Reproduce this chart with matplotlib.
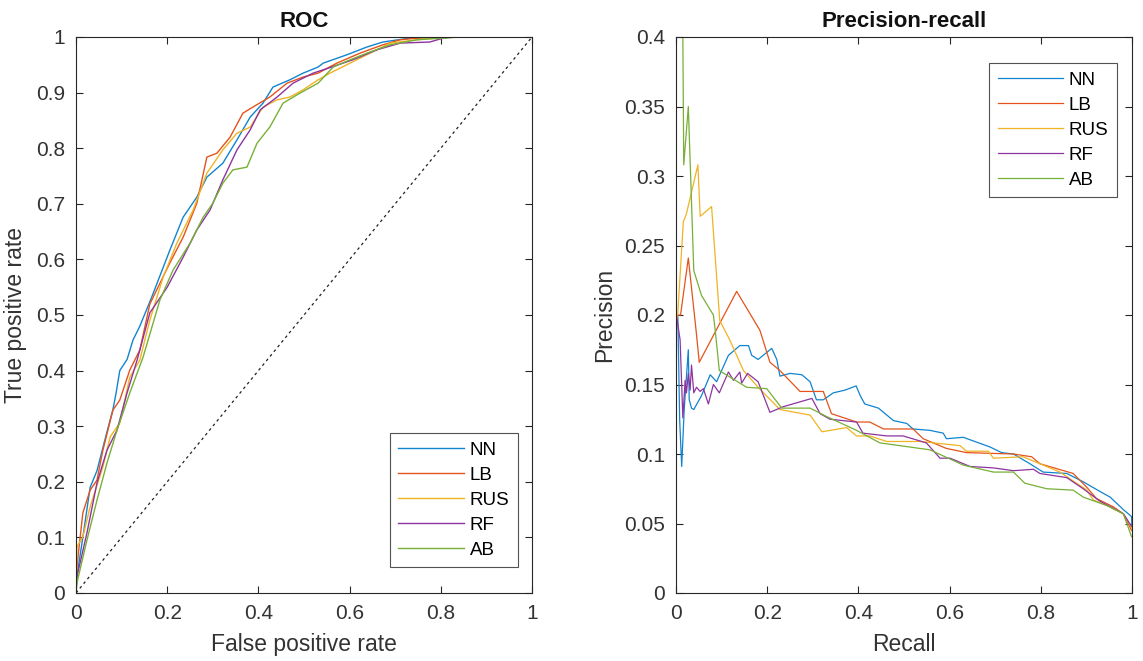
import matplotlib.pyplot as plt

plt.rcParams['font.family'] = ['Liberation Sans', 'DejaVu Sans']

models = ['NN', 'LB', 'RUS', 'RF', 'AB']
colors = ['#1184CF', '#E5531C', '#F0B323', '#8E34A0', '#77B036']

# ROC curves: false positive rate / true positive rate
roc_fpr = {
    'NN': [0, 0.002, 0.015, 0.031, 0.046, 0.068, 0.081, 0.088, 0.096, 0.112, 0.125, 0.14, 0.155, 0.165,
           0.206, 0.235, 0.265, 0.287, 0.322, 0.353, 0.382, 0.41, 0.432, 0.469, 0.498, 0.531, 0.542,
           0.594, 0.638, 0.673, 0.732, 0.798, 0.87, 1],
    'LB': [0, 0.002, 0.015, 0.031, 0.046, 0.059, 0.081, 0.096, 0.118, 0.14, 0.162, 0.206, 0.235, 0.265,
           0.287, 0.309, 0.338, 0.366, 0.388, 0.425, 0.463, 0.498, 0.531, 0.572, 0.623, 0.673, 0.711,
           0.748, 0.8, 1],
    'RUS': [0, 0.002, 0.015, 0.031, 0.059, 0.075, 0.096, 0.118, 0.14, 0.162, 0.191, 0.221, 0.257, 0.287,
            0.322, 0.353, 0.382, 0.41, 0.441, 0.469, 0.498, 0.531, 0.557, 0.601, 0.645, 0.689, 0.748,
            0.805, 1],
    'RF': [0, 0.002, 0.024, 0.046, 0.068, 0.09, 0.112, 0.134, 0.162, 0.2, 0.235, 0.265, 0.294, 0.322,
           0.353, 0.382, 0.404, 0.441, 0.476, 0.52, 0.557, 0.607, 0.66, 0.711, 0.776, 0.805, 0.83, 1],
    'AB': [0, 0.002, 0.024, 0.046, 0.068, 0.09, 0.118, 0.147, 0.184, 0.213, 0.25, 0.279, 0.3, 0.322,
           0.344, 0.375, 0.397, 0.425, 0.454, 0.491, 0.531, 0.564, 0.601, 0.638, 0.689, 0.748, 0.842, 1],
}
roc_tpr = {
    'NN': [0, 0.03, 0.1, 0.19, 0.22, 0.29, 0.33, 0.36, 0.4, 0.42, 0.455, 0.48, 0.51, 0.53,
           0.617, 0.676, 0.712, 0.748, 0.773, 0.815, 0.856, 0.881, 0.91, 0.923, 0.935, 0.946, 0.953,
           0.968, 0.982, 0.991, 0.998, 1, 1, 1],
    'LB': [0, 0.047, 0.144, 0.185, 0.203, 0.257, 0.329, 0.347, 0.401, 0.437, 0.52, 0.594, 0.64, 0.701,
           0.784, 0.791, 0.82, 0.863, 0.874, 0.892, 0.917, 0.928, 0.935, 0.953, 0.971, 0.986, 0.995,
           0.998, 1, 1],
    'RUS': [0, 0.083, 0.101, 0.155, 0.227, 0.281, 0.306, 0.388, 0.419, 0.491, 0.568, 0.629, 0.689, 0.755,
            0.797, 0.827, 0.838, 0.874, 0.887, 0.892, 0.905, 0.923, 0.935, 0.953, 0.971, 0.989, 0.995,
            1, 1],
    'RF': [0, 0.029, 0.108, 0.198, 0.257, 0.293, 0.36, 0.419, 0.504, 0.55, 0.604, 0.653, 0.689, 0.743,
           0.797, 0.833, 0.869, 0.892, 0.917, 0.935, 0.945, 0.959, 0.977, 0.989, 0.991, 0.998, 1, 1],
    'AB': [0, 0.018, 0.095, 0.167, 0.234, 0.293, 0.36, 0.424, 0.527, 0.581, 0.629, 0.676, 0.701, 0.737,
           0.761, 0.766, 0.809, 0.838, 0.881, 0.899, 0.917, 0.946, 0.959, 0.971, 0.986, 0.995, 1, 1],
}

# precision-recall curves
pr_recall = {
    'NN': [0, 0.004, 0.008, 0.0125, 0.018, 0.027, 0.029, 0.034, 0.039, 0.056, 0.075, 0.089, 0.115, 0.14,
           0.159, 0.166, 0.18, 0.21, 0.221, 0.228, 0.25, 0.276, 0.294, 0.308, 0.323, 0.345, 0.371, 0.395,
           0.404, 0.414, 0.444, 0.477, 0.506, 0.52, 0.557, 0.586, 0.593, 0.63, 0.689, 0.714, 0.74, 0.776,
           0.805, 0.857, 0.893, 0.93, 0.952, 0.981, 0.999, 1],
    'LB': [0, 0.01, 0.027, 0.044, 0.051, 0.133, 0.184, 0.206, 0.228, 0.272, 0.323, 0.341, 0.396, 0.425,
           0.455, 0.52, 0.542, 0.593, 0.637, 0.74, 0.78, 0.798, 0.871, 0.901, 0.922, 0.959, 0.981, 0.999],
    'RUS': [0, 0.003, 0.016, 0.023, 0.048, 0.053, 0.078, 0.096, 0.118, 0.148, 0.18, 0.228, 0.294, 0.32,
            0.374, 0.396, 0.425, 0.462, 0.535, 0.623, 0.637, 0.685, 0.696, 0.761, 0.798, 0.842, 0.901,
            0.915, 0.952, 0.981, 1],
    'RF': [0, 0.001, 0.009, 0.015, 0.02, 0.023, 0.027, 0.031, 0.034, 0.039, 0.045, 0.053, 0.06, 0.071,
           0.082, 0.095, 0.115, 0.126, 0.14, 0.144, 0.157, 0.18, 0.206, 0.235, 0.298, 0.316, 0.338, 0.396,
           0.41, 0.462, 0.498, 0.549, 0.579, 0.601, 0.623, 0.645, 0.696, 0.74, 0.784, 0.798, 0.857, 0.893,
           0.93, 0.981, 0.999],
    'AB': [0.013, 0.015, 0.017, 0.027, 0.039, 0.056, 0.082, 0.086, 0.095, 0.115, 0.155, 0.199, 0.232,
           0.294, 0.33, 0.396, 0.447, 0.513, 0.557, 0.63, 0.696, 0.74, 0.765, 0.813, 0.871, 0.893, 0.944,
           0.981, 0.999],
}
pr_precision = {
    'NN': [0.2, 0.2, 0.125, 0.091, 0.132, 0.175, 0.139, 0.133, 0.132, 0.142, 0.157, 0.152, 0.171, 0.178,
           0.178, 0.171, 0.168, 0.176, 0.168, 0.156, 0.158, 0.157, 0.152, 0.139, 0.139, 0.144, 0.146, 0.149,
           0.142, 0.136, 0.133, 0.124, 0.122, 0.118, 0.117, 0.115, 0.111, 0.112, 0.105, 0.101, 0.1, 0.093,
           0.087, 0.086, 0.08, 0.073, 0.069, 0.06, 0.055, 0.047],
    'LB': [0.2, 0.2, 0.241, 0.189, 0.166, 0.217, 0.189, 0.166, 0.16, 0.145, 0.145, 0.129, 0.123, 0.123,
           0.118, 0.118, 0.111, 0.104, 0.101, 0.1, 0.098, 0.093, 0.086, 0.076, 0.068, 0.062, 0.057, 0.045],
    'RUS': [0.19, 0.196, 0.267, 0.273, 0.308, 0.271, 0.278, 0.196, 0.182, 0.16, 0.148, 0.132, 0.128, 0.116,
            0.119, 0.113, 0.113, 0.109, 0.109, 0.106, 0.102, 0.102, 0.097, 0.098, 0.093, 0.087, 0.074,
            0.067, 0.062, 0.057, 0.0465],
    'RF': [0, 0.2, 0.182, 0.126, 0.153, 0.144, 0.158, 0.146, 0.164, 0.144, 0.148, 0.145, 0.147, 0.136,
           0.15, 0.144, 0.159, 0.153, 0.159, 0.151, 0.158, 0.152, 0.13, 0.134, 0.14, 0.129, 0.125, 0.123,
           0.115, 0.113, 0.113, 0.108, 0.097, 0.097, 0.094, 0.091, 0.09, 0.088, 0.089, 0.086, 0.083, 0.075,
           0.066, 0.057, 0.048],
    'AB': [0.5, 0.4, 0.308, 0.35, 0.232, 0.214, 0.2, 0.189, 0.16, 0.156, 0.148, 0.147, 0.133, 0.133,
           0.127, 0.117, 0.108, 0.105, 0.103, 0.092, 0.087, 0.087, 0.079, 0.075, 0.074, 0.069, 0.063,
           0.057, 0.0405],
}

roc_xticks = [0, 0.2, 0.4, 0.6, 0.8, 1]
roc_yticks = [0, 0.1, 0.2, 0.3, 0.4, 0.5, 0.6, 0.7, 0.8, 0.9, 1]
pr_yticks = [0, 0.05, 0.1, 0.15, 0.2, 0.25, 0.3, 0.35, 0.4]

axis_gray = '#262626'
label_gray = '#333333'

fig = plt.figure(figsize=(11.43, 6.61), dpi=100)
ax1 = fig.add_axes((76 / 1143, 1 - 593 / 661, 456 / 1143, 556 / 661))
ax2 = fig.add_axes((676 / 1143, 1 - 593 / 661, 456 / 1143, 556 / 661))

for m, c in zip(models, colors):
    ax1.plot(roc_fpr[m], roc_tpr[m], color=c, lw=1.0, label=m)
ax1.plot([0, 1], [0, 1], color='#222222', lw=0.9, linestyle=(0, (2.2, 2.6)))

for m, c in zip(models, colors):
    ax2.plot(pr_recall[m], pr_precision[m], color=c, lw=0.9, label=m)

ax1.set_xlim(0, 1)
ax1.set_ylim(0, 1)
ax1.set_xticks(roc_xticks)
ax1.set_xticklabels([f'{v:g}' for v in roc_xticks])
ax1.set_yticks(roc_yticks)
ax1.set_yticklabels([f'{v:g}' for v in roc_yticks])
ax1.set_title('ROC', fontsize=16, fontweight='bold', pad=7, color='#111111')
ax1.set_xlabel('False positive rate', fontsize=16.5, color=label_gray, labelpad=7)
ax1.set_ylabel('True positive rate', fontsize=16.5, color=label_gray, labelpad=6)

ax2.set_xlim(0, 1)
ax2.set_ylim(0, 0.4)
ax2.set_xticks(roc_xticks)
ax2.set_xticklabels([f'{v:g}' for v in roc_xticks])
ax2.set_yticks(pr_yticks)
ax2.set_yticklabels([f'{v:g}' for v in pr_yticks])
ax2.set_title('Precision-recall', fontsize=16, fontweight='bold', pad=7, color='#111111')
ax2.set_xlabel('Recall', fontsize=16.5, color=label_gray, labelpad=7)
ax2.set_ylabel('Precision', fontsize=16.5, color=label_gray, labelpad=6)

for ax in (ax1, ax2):
    for s in ax.spines.values():
        s.set_color(axis_gray)
        s.set_linewidth(0.8)
    ax.tick_params(direction='in', length=5, width=0.8, colors=axis_gray,
                   labelsize=15, top=True, right=True, pad=8)
    for t in ax.get_xticklabels() + ax.get_yticklabels():
        t.set_color(label_gray)

leg_kw = dict(fontsize=13.5, handlelength=3.5, frameon=True, fancybox=False,
              edgecolor=axis_gray, borderpad=0.45, labelspacing=0.42, handletextpad=0.3,
              borderaxespad=0)
l1 = ax1.legend(loc='lower right', bbox_to_anchor=(0.969, 0.046), **leg_kw)
l2 = ax2.legend(loc='upper right', bbox_to_anchor=(0.967, 0.953), **leg_kw)
for lg in (l1, l2):
    lg.get_frame().set_linewidth(0.8)

fig.savefig('out.png', dpi=100)
